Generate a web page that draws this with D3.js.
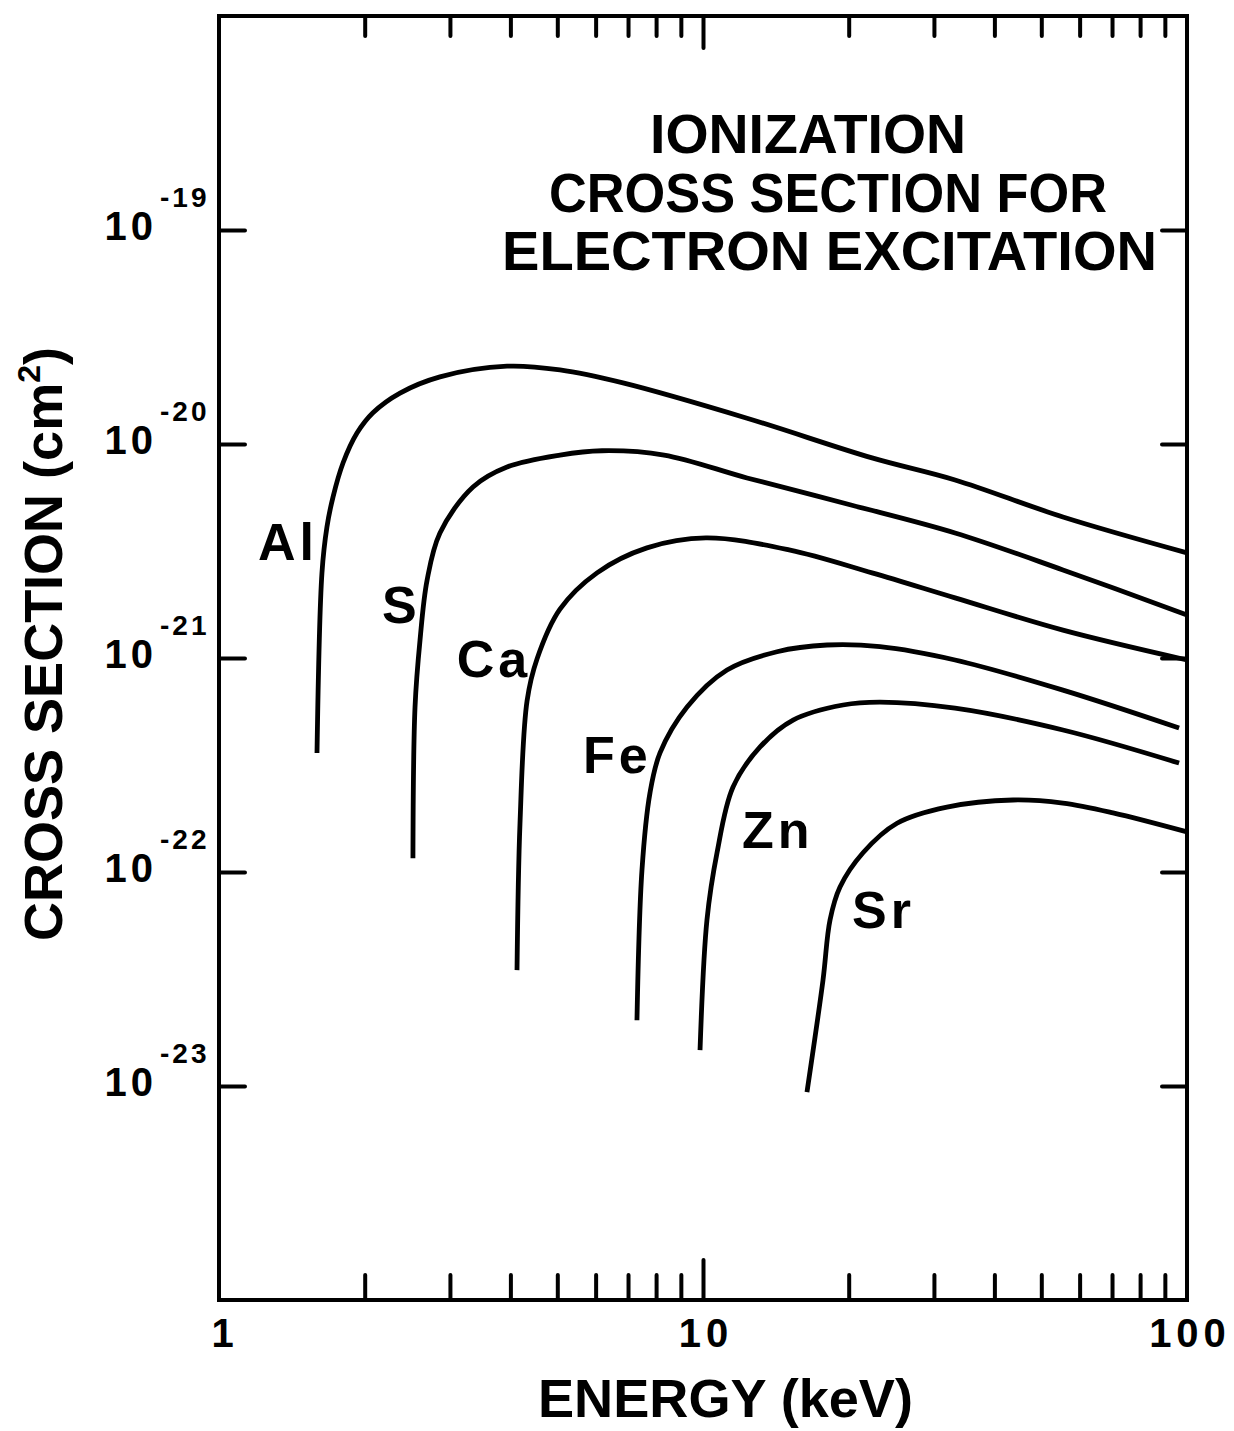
<!DOCTYPE html>
<html>
<head>
<meta charset="utf-8">
<script src="https://cdn.jsdelivr.net/npm/d3@7"></script>
<style>
  html, body { margin: 0; padding: 0; background: #fff; }
  svg { display: block; }
  text { font-family: "Liberation Sans", "Helvetica", "Arial", sans-serif; font-weight: bold; fill: #000; }
</style>
</head>
<body>
<svg id="chart" width="1234" height="1431"></svg>
<script>
// ---------------- DATA ----------------
const xTickLabels = ["1", "10", "100"];
const xTickValues = [1, 10, 100];
const xMinorTicks = [2, 3, 4, 5, 6, 7, 8, 9, 20, 30, 40, 50, 60, 70, 80, 90];
const xMajorTicks = [10];
const yTickValues = [1e-19, 1e-20, 1e-21, 1e-22, 1e-23];
const yTickExponents = ["-19", "-20", "-21", "-22", "-23"];

const elements = ["Al", "S", "Ca", "Fe", "Zn", "Sr"];

const energyAl = [1.594, 1.632, 1.671, 1.720, 1.804, 1.928, 2.080, 2.366, 2.861, 3.936, 5.064, 6.834, 12.33, 22.35, 33.17, 55.42, 100];
const sigmaAl  = [3.6e-22, 2.50e-21, 4.09e-21, 5.65e-21, 8.15e-21, 1.125e-20, 1.40e-20, 1.73e-20, 2.06e-20, 2.31e-20, 2.22e-20, 1.93e-20, 1.32e-20, 8.61e-21, 6.79e-21, 4.56e-21, 3.10e-21];

const energyS = [2.516, 2.541, 2.602, 2.691, 2.861, 3.348, 3.936, 5.064, 6.184, 8.31, 12.33, 20.22, 33.17, 55.42, 100];
const sigmaS  = [1.16e-22, 5.90e-22, 1.21e-21, 2.31e-21, 3.84e-21, 6.30e-21, 7.81e-21, 8.88e-21, 9.30e-21, 8.88e-21, 6.94e-21, 5.19e-21, 3.84e-21, 2.58e-21, 1.59e-21];

const energyCa = [4.128, 4.187, 4.33, 4.54, 5.064, 6.04, 7.66, 10.14, 15.06, 22.35, 33.17, 55.42, 100];
const sigmaCa  = [3.48e-23, 1.69e-22, 6.30e-22, 9.89e-22, 1.69e-21, 2.50e-21, 3.27e-21, 3.64e-21, 3.20e-21, 2.50e-21, 1.91e-21, 1.35e-21, 9.79e-22];

const energyFe = [7.304, 7.48, 7.77, 8.15, 9.27, 11.21, 14.22, 18.04, 23.21, 33.17, 55.42, 96.3];
const sigmaFe  = [2.03e-23, 1.02e-22, 2.34e-22, 3.60e-22, 5.90e-22, 8.79e-22, 1.07e-21, 1.15e-21, 1.13e-21, 9.79e-22, 7.08e-22, 4.71e-22];

const energyZn = [9.86, 10.19, 10.69, 11.53, 13.12, 15.35, 19.47, 23.21, 33.17, 55.42, 96.3];
const sigmaZn  = [1.47e-23, 5.97e-23, 1.23e-22, 2.49e-22, 3.84e-22, 5.13e-22, 6.03e-22, 6.22e-22, 5.83e-22, 4.61e-22, 3.23e-22];

const energySr = [16.40, 17.70, 18.30, 19.19, 21.41, 25.17, 31.92, 43.71, 55.42, 70.33, 100];
const sigmaSr  = [9.37e-24, 3.13e-23, 5.97e-23, 8.51e-23, 1.23e-22, 1.69e-22, 2.01e-22, 2.17e-22, 2.10e-22, 1.89e-22, 1.54e-22];

// label anchors in data coordinates (energy, cross section)
const labelEnergy = [1.204, 2.172, 3.10, 5.65, 12.04, 20.32];
const labelSigma  = [2.87e-21, 1.46e-21, 8.15e-22, 2.90e-22, 1.29e-22, 5.47e-23];

const titleLines = ["IONIZATION", "CROSS SECTION FOR", "ELECTRON EXCITATION"];
const xAxisTitle = "ENERGY (keV)";
const yAxisTitle = "CROSS SECTION (cm";

// ---------------- LAYOUT ----------------
const L = 219, R = 1187, T = 16, B = 1300;
const svg = d3.select("#chart");
const x = d3.scaleLog().domain([1, 100]).range([L, R]);
const y = d3.scaleLog().domain([1e-24, 1e-18]).range([B, T]);

const series = [
  {name: "Al", e: energyAl, s: sigmaAl},
  {name: "S",  e: energyS,  s: sigmaS},
  {name: "Ca", e: energyCa, s: sigmaCa},
  {name: "Fe", e: energyFe, s: sigmaFe},
  {name: "Zn", e: energyZn, s: sigmaZn},
  {name: "Sr", e: energySr, s: sigmaSr}
];

const SW = 4;

// ticks via d3 axes (pointing inward)
function styleAxis(g) {
  g.select(".domain").remove();
  g.selectAll(".tick line").attr("stroke", "#000").attr("stroke-width", SW).attr("stroke-linecap", "round");
  g.selectAll(".tick text").remove();
}
svg.append("g").attr("transform", `translate(0,${B})`)
  .call(d3.axisBottom(x).tickValues(xMinorTicks).tickSize(-25).tickFormat(""))
  .call(styleAxis);
svg.append("g").attr("transform", `translate(0,${B})`)
  .call(d3.axisBottom(x).tickValues(xMajorTicks).tickSize(-40).tickFormat(""))
  .call(styleAxis);
svg.append("g").attr("transform", `translate(0,${T})`)
  .call(d3.axisTop(x).tickValues(xMinorTicks).tickSize(-20).tickFormat(""))
  .call(styleAxis);
svg.append("g").attr("transform", `translate(0,${T})`)
  .call(d3.axisTop(x).tickValues(xMajorTicks).tickSize(-32).tickFormat(""))
  .call(styleAxis);
svg.append("g").attr("transform", `translate(${L},0)`)
  .call(d3.axisLeft(y).tickValues(yTickValues).tickSize(-26).tickFormat(""))
  .call(styleAxis);
svg.append("g").attr("transform", `translate(${R},0)`)
  .call(d3.axisRight(y).tickValues(yTickValues).tickSize(-25).tickFormat(""))
  .call(styleAxis);

// frame
svg.append("rect")
  .attr("x", L).attr("y", T).attr("width", R - L).attr("height", B - T)
  .attr("fill", "none").attr("stroke", "#000").attr("stroke-width", SW);

// curves
const line = d3.line()
  .x(d => x(d[0])).y(d => y(d[1]))
  .curve(d3.curveCatmullRom.alpha(0.5));
svg.append("g").selectAll("path")
  .data(series)
  .join("path")
  .attr("d", d => line(d.e.map((v, i) => [v, d.s[i]])))
  .attr("fill", "none").attr("stroke", "#000")
  .attr("stroke-width", 4.8).attr("stroke-linecap", "butt").attr("stroke-linejoin", "round");

// element labels
svg.append("g").selectAll("text")
  .data(elements)
  .join("text")
  .attr("x", (d, i) => x(labelEnergy[i]))
  .attr("y", (d, i) => y(labelSigma[i]))
  .attr("font-size", 52)
  .attr("letter-spacing", 4)
  .text(d => d);

// x tick labels
svg.append("g").selectAll("text")
  .data(xTickValues)
  .join("text")
  .attr("x", d => x(d) + (d === 1 ? 6 : 3))
  .attr("y", 1347)
  .attr("text-anchor", "middle")
  .attr("font-size", 40)
  .attr("letter-spacing", 5)
  .text((d, i) => xTickLabels[i]);

// y tick labels (10 with superscript exponent)
const yl = svg.append("g").selectAll("g")
  .data(yTickValues)
  .join("g");
yl.append("text")
  .attr("x", 157).attr("y", d => y(d) + 10)
  .attr("text-anchor", "end")
  .attr("font-size", 40)
  .attr("letter-spacing", 4)
  .text("10");
yl.append("text")
  .attr("x", 160).attr("y", d => y(d) - 23)
  .attr("font-size", 28)
  .attr("letter-spacing", 3)
  .text((d, i) => yTickExponents[i]);

// title
const titleX = [650, 549, 502];
const titleW = [316, 558, 655];
const titleY = [153, 212, 270];
svg.append("g").selectAll("text")
  .data(titleLines)
  .join("text")
  .attr("x", (d, i) => titleX[i])
  .attr("y", (d, i) => titleY[i])
  .attr("font-size", 55)
  .attr("textLength", (d, i) => titleW[i])
  .attr("lengthAdjust", "spacingAndGlyphs")
  .text(d => d);

// x axis title
svg.append("text")
  .attr("x", 538).attr("y", 1417)
  .attr("font-size", 53)
  .attr("textLength", 375)
  .attr("lengthAdjust", "spacingAndGlyphs")
  .text(xAxisTitle);

// y axis title
const yt = svg.append("text")
  .attr("transform", "translate(62,644) rotate(-90)")
  .attr("text-anchor", "middle")
  .attr("font-size", 54);
yt.append("tspan").text(yAxisTitle);
yt.append("tspan").attr("dy", -22).attr("font-size", 32).text("2");
yt.append("tspan").attr("dy", 22).text(")");
</script>
</body>
</html>
